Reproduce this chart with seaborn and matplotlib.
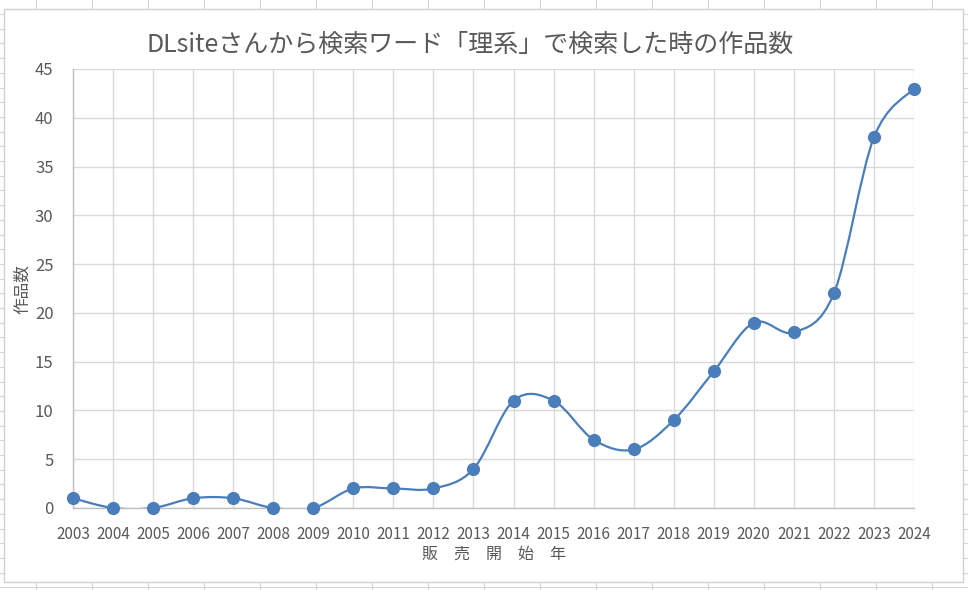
import numpy as np
import pandas as pd
import matplotlib
matplotlib.use("Agg")
import matplotlib.pyplot as plt
from matplotlib.path import Path
from matplotlib.patches import PathPatch, Rectangle
from matplotlib.lines import Line2D
import seaborn as sns

years = list(range(2003, 2025))
counts = [1, 0, 0, 1, 1, 0, 0, 2, 2, 2, 4, 11, 11, 7, 6, 9, 14, 19, 18, 22, 38, 43]
title = "DLsiteさんから検索ワード「理系」で検索した時の作品数"
xlabel = "販　売　開　始　年"
ylabel = "作品数"

sns.set_theme(style="white")
plt.rcParams['font.family'] = ['Noto Sans CJK JP', 'DejaVu Sans']

W, H = 968, 590
fig = plt.figure(figsize=(W / 100, H / 100), dpi=100)
fig.patch.set_facecolor("white")

# Excel sheet grid in the background
for xv in range(36, W, 56):
    fig.add_artist(Line2D([xv / W, xv / W], [0, 1], transform=fig.transFigure,
                          color="#d4d4d4", lw=0.8, zorder=0))
for yv in np.arange(14, H, 14.7):
    fig.add_artist(Line2D([0, 1], [1 - yv / H, 1 - yv / H], transform=fig.transFigure,
                          color="#d4d4d4", lw=0.8, zorder=0))
# Chart area
fig.add_artist(Rectangle((4 / W, 1 - 582 / H), (963 - 4) / W, (582 - 9) / H,
                         transform=fig.transFigure, facecolor="white",
                         edgecolor="#d0d0d0", lw=1.0, zorder=0.5))

ax = fig.add_axes([73 / W, 1 - 508 / H, (914 - 73) / W, (508 - 69) / H])
ax.set_facecolor("none")
ax.set_zorder(1)

df = pd.DataFrame({"year": years, "count": counts})
xs = np.arange(len(years))

# Smooth (Catmull-Rom style Bezier) line through the points
pts = np.column_stack([xs, np.array(counts, dtype=float)])
verts = [tuple(pts[0])]
codes = [Path.MOVETO]
n = len(pts)
for i in range(n - 1):
    p0 = pts[i - 1] if i > 0 else pts[i]
    p1 = pts[i]
    p2 = pts[i + 1]
    p3 = pts[i + 2] if i + 2 < n else pts[i + 1]
    c1 = p1 + (p2 - p0) / 6.0
    c2 = p2 - (p3 - p1) / 6.0
    verts += [tuple(c1), tuple(c2), tuple(p2)]
    codes += [Path.CURVE4, Path.CURVE4, Path.CURVE4]
line_color = "#4a7ebb"
ax.add_patch(PathPatch(Path(verts, codes), facecolor="none", edgecolor=line_color,
                       lw=1.6, zorder=3))

df["x"] = xs
sns.scatterplot(data=df, x="x", y="count", ax=ax, color=line_color, s=90,
                edgecolor=line_color, linewidth=0, zorder=4, clip_on=False, legend=False)

ax.set_xlim(0, len(years) - 1)
ax.set_ylim(0, 45)
ax.set_xticks(xs)
ax.set_xticklabels([str(y) for y in years])
ax.set_yticks(np.arange(0, 46, 5))
ax.grid(True, color="#d9d9d9", lw=1.0)
ax.set_axisbelow(True)
for s in ["top", "right"]:
    ax.spines[s].set_visible(False)
for s in ["left", "bottom"]:
    ax.spines[s].set_color("#bfbfbf")
    ax.spines[s].set_linewidth(1.0)
ax.tick_params(axis="x", labelsize=11, colors="#595959", length=0, pad=13)
ax.tick_params(axis="y", labelsize=12, colors="#595959", length=0, pad=14)
ax.set_xlabel("")
ax.set_ylabel("")

fig.text(470 / W, 1 - 45 / H, title, ha="center", va="center", fontsize=18, color="#595959")
fig.text(494 / W, 1 - 554 / H, xlabel, ha="center", va="center", fontsize=11.5, color="#595959")
fig.text(22 / W, 1 - 289 / H, ylabel, ha="center", va="center", fontsize=12,
         color="#595959", rotation=90)

fig.savefig("out.png", dpi=100, facecolor="white")
